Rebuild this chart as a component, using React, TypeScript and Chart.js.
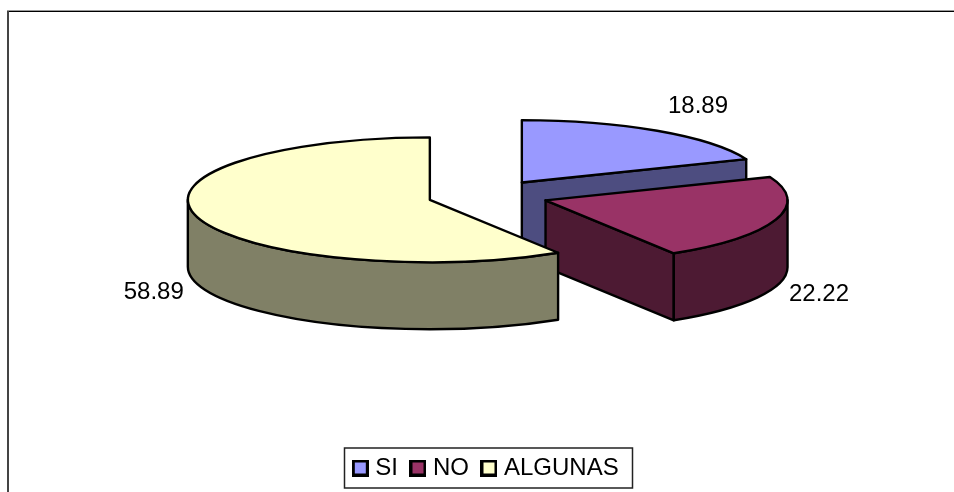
import React, { useEffect, useRef } from "react";
import { Chart, registerables } from "chart.js";

Chart.register(...registerables);

const categories = ["SI", "NO", "ALGUNAS"];
const seriesValues = [18.89, 22.22, 58.89];
const topColors = ["#9999FF", "#993366", "#FFFFCC"];
const sideColors = ["#4D4D80", "#4D1A33", "#808066"];

const FONT = '"Liberation Sans", Arial, sans-serif';
const RADIUS = 242;
const EXPLODE = 60.5;
const SQUASH = 0.258;
const DEPTH = 67;
const CENTER_Y = 195.5;
const LABEL_GAP = 256;
const labelNudges = [[3, -21], [0, 7], [0, 7]];

function swatch(color: string) {
  const c = document.createElement("canvas");
  c.width = 17;
  c.height = 17;
  const g = c.getContext("2d")!;
  g.fillStyle = "#000";
  g.fillRect(0, 0, 17, 17);
  g.fillStyle = color;
  g.fillRect(3, 3, 11, 11);
  return c;
}

function apex(arc: any) {
  const h = (arc.startAngle + arc.endAngle) / 2;
  return {
    h,
    cx: arc.x + Math.cos(h) * EXPLODE,
    cy: CENTER_Y + Math.sin(h) * EXPLODE * SQUASH,
  };
}

const pie3d = {
  id: "pie3d",
  beforeDraw(chart: any) {
    const { ctx, width, height } = chart;
    ctx.save();
    ctx.fillStyle = "#000";
    ctx.fillRect(7, 11, width - 7, 1);
    ctx.fillStyle = "#999";
    ctx.fillRect(7, 10, width - 7, 1);
    ctx.fillStyle = "#444";
    ctx.fillRect(7, 11, 2, height - 11);
    ctx.restore();
  },
  beforeDatasetsDraw(chart: any) {
    const { ctx } = chart;
    const arcs = chart.getDatasetMeta(0).data;
    ctx.save();
    ctx.lineWidth = 2.4;
    ctx.strokeStyle = "#000";
    ctx.lineJoin = "round";
    arcs.forEach((arc: any, i: number) => {
      const a0 = arc.startAngle;
      const a1 = arc.endAngle;
      const R = arc.outerRadius;
      const { cx, cy } = apex(arc);
      const Ry = R * SQUASH;
      ctx.fillStyle = sideColors[i];
      const wall = (a: number) => {
        const px = cx + Math.cos(a) * R;
        const py = cy + Math.sin(a) * Ry;
        ctx.beginPath();
        ctx.moveTo(cx, cy);
        ctx.lineTo(px, py);
        ctx.lineTo(px, py + DEPTH);
        ctx.lineTo(cx, cy + DEPTH);
        ctx.closePath();
        ctx.fill();
        ctx.stroke();
      };
      if (Math.cos(a1) > 1e-6) wall(a1);
      if (-Math.cos(a0) > 1e-6) wall(a0);
      const r0 = Math.max(a0, 0);
      const r1 = Math.min(a1, Math.PI);
      if (r1 > r0) {
        ctx.beginPath();
        ctx.ellipse(cx, cy, R, Ry, 0, r0, r1);
        ctx.ellipse(cx, cy + DEPTH, R, Ry, 0, r1, r0, true);
        ctx.closePath();
        ctx.fill();
        ctx.stroke();
      }
    });
    ctx.restore();
  },
  beforeDatasetDraw(chart: any) {
    const { ctx } = chart;
    chart.getDatasetMeta(0).data.forEach((arc: any) => {
      const { cx, cy } = apex(arc);
      ctx.save();
      ctx.translate(cx, cy);
      ctx.scale(1, SQUASH);
      ctx.translate(-arc.x, -arc.y);
      arc.draw(ctx);
      ctx.restore();
    });
    return false;
  },
  afterDatasetsDraw(chart: any) {
    const { ctx } = chart;
    const arcs = chart.getDatasetMeta(0).data;
    ctx.save();
    ctx.lineWidth = 2.4;
    ctx.strokeStyle = "#000";
    ctx.lineJoin = "round";
    arcs.forEach((arc: any, i: number) => {
      const R = arc.outerRadius;
      const { h, cx, cy } = apex(arc);
      ctx.beginPath();
      ctx.moveTo(cx, cy);
      ctx.ellipse(cx, cy, R, R * SQUASH, 0, arc.startAngle, arc.endAngle);
      ctx.closePath();
      ctx.stroke();

      const lx = cx + Math.cos(h) * LABEL_GAP + labelNudges[i][0];
      const ly = cy + Math.sin(h) * LABEL_GAP * SQUASH + (Math.sin(h) > 0 ? DEPTH : 0) + labelNudges[i][1];
      ctx.font = `24px ${FONT}`;
      ctx.fillStyle = "#000";
      ctx.textBaseline = "middle";
      ctx.textAlign = Math.cos(h) >= 0 ? "left" : "right";
      ctx.fillText(seriesValues[i].toFixed(2), lx, ly);
    });
    ctx.restore();
  },
  afterDraw(chart: any) {
    const { ctx, legend } = chart;
    const boxes = legend.legendHitBoxes;
    const left = Math.min(...boxes.map((b: any) => b.left)) - 13;
    const right = Math.max(...boxes.map((b: any) => b.left + b.width)) + 14;
    const midY = boxes[0].top + boxes[0].height / 2;
    ctx.save();
    ctx.strokeStyle = "#222";
    ctx.lineWidth = 1.5;
    ctx.strokeRect(Math.round(left) + 0.5, midY - 20, Math.round(right - left), 40);
    ctx.restore();
  },
};

export default function App() {
  const ref = useRef<HTMLCanvasElement>(null);
  useEffect(() => {
    const chart = new Chart(ref.current!, {
      type: "pie",
      data: {
        labels: categories,
        datasets: [
          {
            data: seriesValues,
            backgroundColor: topColors,
            borderWidth: 0,
            clip: false,
          } as any,
        ],
      },
      options: {
        responsive: false,
        animation: false,
        radius: RADIUS,
        layout: { padding: { left: 22, bottom: 2 } },
        plugins: {
          tooltip: { enabled: false },
          legend: {
            position: "bottom",
            labels: {
              font: { family: FONT, size: 24 },
              color: "#000",
              padding: 17,
              usePointStyle: true,
              pointStyleWidth: 6,
              generateLabels: (c: any) =>
                (Chart as any).overrides.pie.plugins.legend.labels
                  .generateLabels(c)
                  .map((item: any, i: number) => ({ ...item, pointStyle: swatch(topColors[i]) })),
            },
          },
        },
      } as any,
      plugins: [pie3d],
    });
    return () => chart.destroy();
  }, []);
  return (
    <div style={{ position: "fixed", left: 0, top: 0, width: 954, height: 492, background: "#fff" }}>
      <canvas ref={ref} width={954} height={492} style={{ display: "block" }} />
    </div>
  );
}
